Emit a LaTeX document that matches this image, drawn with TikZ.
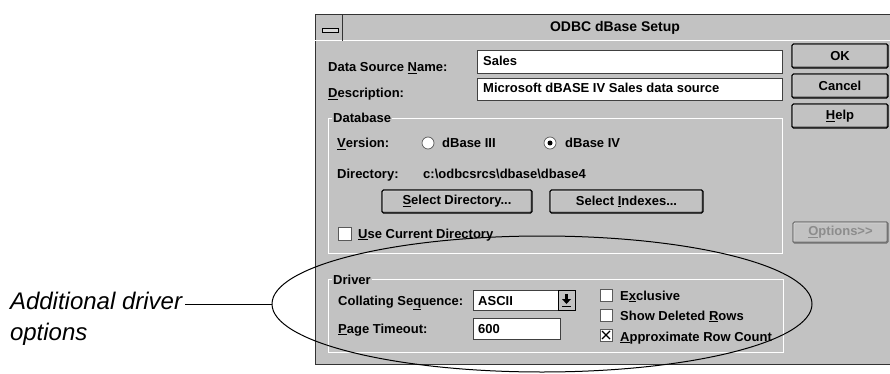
\documentclass[tikz,border=0pt]{standalone}
\usepackage{fontspec}
\setmainfont{Liberation Sans}
\usepackage{tikz}
\usetikzlibrary{calc}

\definecolor{dlgbg}{gray}{0.76}

\tikzset{
  lbl/.style={anchor=base west, inner sep=0pt, font=\fontsize{13}{15}\selectfont\bfseries},
  field/.style={draw=black!75, fill=white, line width=.8pt},
  btn/.style={draw=black, line width=1.1pt, fill=dlgbg, rounded corners=1.5pt, inner sep=0pt,
    font=\fontsize{13}{15}\selectfont\bfseries,
    path picture={
      \draw[white, line width=2pt] (path picture bounding box.south west) -- (path picture bounding box.north west)
        -- (path picture bounding box.north east);
      \draw[black!55, line width=3pt] (path picture bounding box.south west) -- (path picture bounding box.south east)
        -- (path picture bounding box.north east);
    }},
  grp/.style={draw=white, line width=.7pt},
  chk/.style={draw=black!65, fill=white, line width=.7pt},
  note/.style={anchor=base west, inner sep=0pt, outer xsep=3pt, font=\fontsize{24}{28}\selectfont\itshape}
}

\begin{document}
\begin{tikzpicture}[x=1pt,y=-1pt]
\useasboundingbox (0,0) rectangle (890,374);
% dialog window
\fill[dlgbg] (315,15) rectangle (890,364);
\draw[black!80, line width=1pt] (890,15) -- (315,15) -- (315,364) -- (890,364);
\draw[white, line width=1pt] (315,41) -- (890,41);
\draw[black!80, line width=.8pt] (342,15) -- (342,41);
\draw[black, fill=black!15, line width=.7pt] (322,28.5) rectangle (338,32);
\node[lbl, anchor=base, font=\fontsize{14}{16}\selectfont\bfseries] (title) at (615,32) {ODBC dBase Setup};

% name and description
\node[lbl] (dsn) at (328,72) {Data Source \underline{N}ame:};
\draw[field] (477,50) rectangle (782,73);
\node[lbl] (dsnval) at (483,66) {Sales};
\node[lbl] (desc) at (328,98) {\underline{D}escription:};
\draw[field] (477,78) rectangle (782,100);
\node[lbl] (descval) at (483,93) {Microsoft dBASE IV Sales data source};

% buttons
\node[btn, minimum width=96pt, minimum height=24pt] (ok) at (840,56) {OK};
\node[btn, minimum width=96pt, minimum height=24pt] (cancel) at (840,86) {Cancel};
\node[btn, minimum width=96pt, minimum height=24pt] (help) at (840,116) {\underline{H}elp};
\node[btn, draw=black!55, text=black!45, minimum width=95pt, minimum height=21pt] (opts) at (840.5,232.5) {\underline{O}ptions>{}>};

% database group
\draw[grp] (328,118) rectangle (782,253);
\node[lbl, fill=dlgbg, inner xsep=1pt] (dbgrp) at (332,123) {Database};
\node[lbl] (ver) at (337,148) {\underline{V}ersion:};
\draw[chk] (428,143) circle (6pt);
\node[lbl] (db3) at (442,148) {dBase III};
\draw[chk] (550,143) circle (6pt);
\fill (550,143) circle (2.5pt);
\node[lbl] (db4) at (565,148) {dBase IV};
\node[lbl] (dir) at (337,178) {Directory:};
\node[lbl] (dirval) at (423,178) {c:\textbackslash odbcsrcs\textbackslash dbase\textbackslash dbase4};
\node[btn, minimum width=150pt, minimum height=23pt] (seldir) at (457,201.5) {\underline{S}elect Directory...};
\node[btn, minimum width=153pt, minimum height=23pt] (selidx) at (626.5,201.5) {Select \underline{I}ndexes...};
\draw[chk] (338,227) rectangle (351,240);
\node[lbl] (usecur) at (358,238) {\underline{U}se Current Directory};

% driver group
\draw[grp] (328,279) rectangle (783,352);
\node[lbl, fill=dlgbg, inner xsep=1pt] (drvgrp) at (332,284) {Driver};
\node[lbl] (coll) at (338,305) {Collating Se\underline{q}uence:};
\draw[field] (473,290) rectangle (575,310);
\node[lbl] (collval) at (478,305) {ASCII};
\draw[black, fill=dlgbg, line width=.8pt] (558,290) rectangle (575,310);
\fill (565.3,294) rectangle (567.7,299);
\fill (562,299) -- (571,299) -- (566.5,304) -- cycle;
\draw[line width=.9pt] (562,306.5) -- (571,306.5);
\node[lbl] (page) at (338,333) {\underline{P}age Timeout:};
\draw[field] (473,318) rectangle (560,339);
\node[lbl] (pageval) at (478,333) {600};
\draw[chk] (600,289) rectangle (612,301);
\node[lbl] (excl) at (620,300) {E\underline{x}clusive};
\draw[chk] (600,309) rectangle (612,321);
\node[lbl] (showdel) at (620,320) {Show Deleted \underline{R}ows};
\draw[chk] (600,329) rectangle (612,341);
\draw[line width=1.1pt] (602,331) -- (610,339) (610,331) -- (602,339);
\node[lbl] (approx) at (620,341) {\underline{A}pproximate Row Count};

% callout
\coordinate (ell) at (542,304);
\coordinate (ovl) at (272,304);
\draw[line width=1pt] (ell) ellipse [x radius=270pt, y radius=68pt];
\node[note] (lbl1) at (7,309) {Additional driver};
\node[note] (lbl2) at (7,340) {options};
\draw[line width=.8pt] (lbl1.east |- ovl) -- (ovl);
\end{tikzpicture}
\end{document}
